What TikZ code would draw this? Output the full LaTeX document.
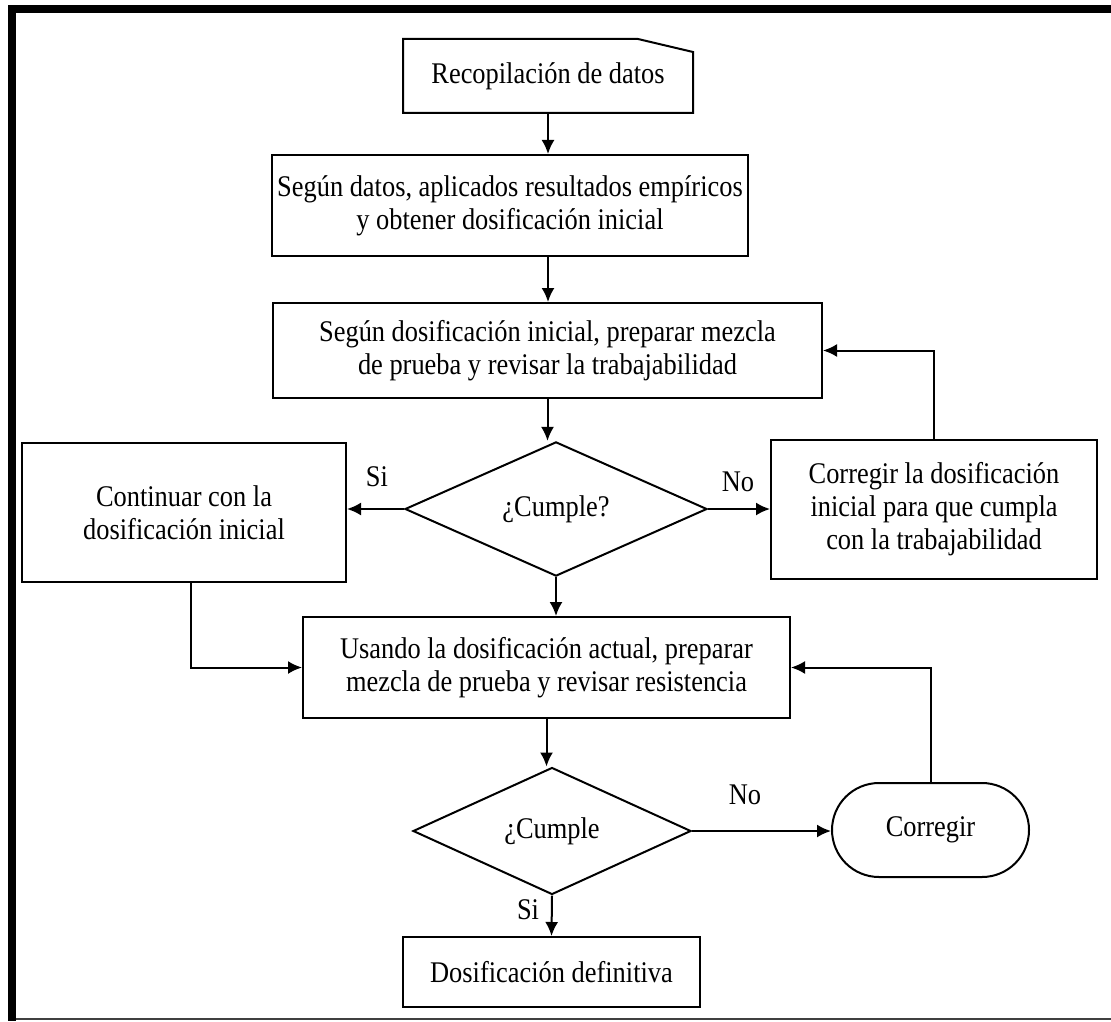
\documentclass[tikz,border=0pt]{standalone}
\usepackage{fontspec}
\setmainfont{Liberation Serif}[FakeStretch=0.88]
\usetikzlibrary{shapes.geometric,arrows.meta}

\begin{document}
\begin{tikzpicture}[x=0.5pt, y=-0.5pt,
    font=\fontsize{15}{16.5}\selectfont,
    line width=1pt,
    b/.style={draw, align=center, inner sep=0pt},
    d/.style={draw, diamond, inner sep=0pt},
    r/.style={draw, rounded corners=23.5pt, inner sep=0pt},
    a/.style={-{Latex[length=7pt,width=6.5pt]}}]
    \useasboundingbox (0,0) rectangle (1111,1021);
    \fill (8,5) rectangle (1111,13);
    \fill (8,5) rectangle (16,1021);
    \draw[black!75, line width=0.8pt] (16,1019) -- (1111,1019);

    \node[align=center, inner sep=0pt, minimum width=144pt, minimum height=36pt] (rec) at (548,76) {\raisebox{-3pt}{Recopilación de datos}};
    \draw (rec.south west) -- (rec.north west) -- ([xshift=-27.5pt]rec.north east)
          -- ([yshift=-6.5pt]rec.north east) -- (rec.south east) -- cycle;

    \node[b, minimum width=238pt, minimum height=50.5pt] (datos) at (510,205.5)
        {Según datos, aplicados resultados empíricos\\y obtener dosificación inicial};
    \node[b, minimum width=274.5pt, minimum height=47.5pt] (prep) at (547.5,350.5)
        {Según dosificación inicial, preparar mezcla\\de prueba y revisar la trabajabilidad};
    \node[d, minimum width=151pt, minimum height=66.5pt] (cumple1) at (556,509) {¿Cumple?};
    \node[b, minimum width=162pt, minimum height=69.5pt] (cont) at (184,512.5)
        {Continuar con la\\dosificación inicial};
    \node[b, minimum width=163pt, minimum height=69.5pt] (corr1) at (934,509.5)
        {Corregir la dosificación\\inicial para que cumpla\\con la trabajabilidad};
    \node[b, minimum width=243.5pt, minimum height=50.5pt] (usa) at (546.5,667.5)
        {Usando la dosificación actual, preparar\\mezcla de prueba y revisar resistencia};
    \node[d, minimum width=139pt, minimum height=63.5pt] (cumple2) at (552,831) {¿Cumple};
    \node[r, minimum width=98.5pt, minimum height=47pt] (corr2) at (930.5,830) {Corregir};
    \node[b, minimum width=148.5pt, minimum height=35pt] (fin) at (551.5,972) {Dosificación definitiva};

    \node (si1) at (377,477) {Si};
    \node (no1) at (738,482) {No};
    \node (no2) at (745,795) {No};
    \node (si2) at (528,910) {Si};

    \draw[a] (rec.south) -- (rec.south |- datos.north);
    \draw[a] (datos.south -| rec.south) -- (rec.south |- prep.north);
    \draw[a] (prep.south) -- (prep.south |- cumple1.north);
    \draw[a] (cumple1.west) -- (cumple1.west -| cont.east);
    \draw[a] (cumple1.east) -- (cumple1.east -| corr1.west);
    \draw[a] (corr1.north) |- (prep.east);
    \draw[a] (cumple1.south) -- (cumple1.south |- usa.north);
    \draw[a] ([xshift=3.5pt]cont.south) |- (usa.west);
    \draw[a] (usa.south) -- (usa.south |- cumple2.north);
    \draw[a] (cumple2.east) -- (cumple2.east -| corr2.west);
    \draw[a] (corr2.north) |- (usa.east);
    \draw[a] (cumple2.south) -- (fin.north);
\end{tikzpicture}
\end{document}
